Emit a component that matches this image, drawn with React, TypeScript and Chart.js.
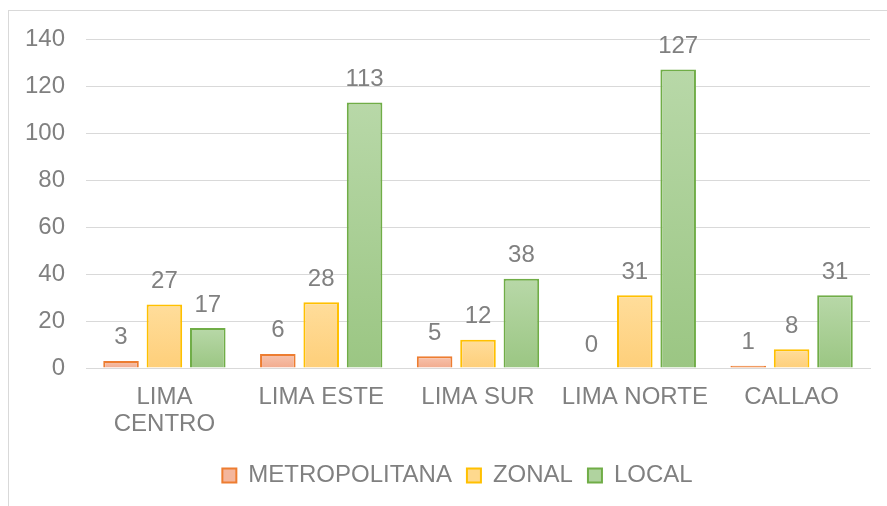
import React, { useEffect, useRef } from "react";
import { Chart, registerables } from "chart.js";

Chart.register(...registerables);

const categories: (string | string[])[] = [["LIMA", "CENTRO"], "LIMA ESTE", "LIMA SUR", "LIMA NORTE", "CALLAO"];
const metropolitana = [3, 6, 5, 0, 1];
const zonal = [27, 28, 12, 31, 8];
const local = [17, 113, 38, 127, 31];
const seriesNames = ["METROPOLITANA", "ZONAL", "LOCAL"];
const yTicksMax = 140;
const yTickStep = 20;

const FONT = "'Liberation Sans', Arial, sans-serif";
const TEXT = "#808080";
const FS = 24;
const LEGEND_SHIFT = 22.5;

const styles = [
  { top: "#f7c4ae", bottom: "#f2ab8e", border: "#ed7d31", legend: "#f4b69c" },
  { top: "#ffdd9b", bottom: "#fecf7a", border: "#ffc000", legend: "#fed98e" },
  { top: "#b8d8a8", bottom: "#9bc683", border: "#70ad47", legend: "#b0d39f" },
];

function gradientFor(idx: number) {
  return (ctx: any) => {
    const chart = ctx.chart;
    const s = styles[idx];
    const area = chart.chartArea;
    const yScale = chart.scales?.y;
    if (!area || !yScale || ctx.raw == null) return s.legend;
    const yTop = yScale.getPixelForValue(ctx.raw);
    const yBot = yScale.getPixelForValue(0);
    if (!isFinite(yTop)) return s.legend;
    if (Math.abs(yBot - yTop) < 4) return s.border;
    const g = chart.ctx.createLinearGradient(0, yTop, 0, yBot);
    g.addColorStop(0, s.top);
    g.addColorStop(1, s.bottom);
    return g;
  };
}

const dataLabels = {
  id: "dataLabels",
  afterDatasetsDraw(chart: any) {
    const c = chart.ctx;
    c.save();
    c.font = `${FS}px ${FONT}`;
    c.fillStyle = TEXT;
    c.textAlign = "center";
    c.textBaseline = "alphabetic";
    chart.data.datasets.forEach((ds: any, i: number) => {
      const meta = chart.getDatasetMeta(i);
      meta.data.forEach((el: any, j: number) => {
        c.fillText(String(ds.data[j]), el.x, el.y - 16.5);
      });
    });
    c.restore();
  },
};

const legendShift = {
  id: "legendShift",
  afterLayout(chart: any) {
    const lg = chart.legend;
    if (lg) {
      lg.left += LEGEND_SHIFT;
      lg.right += LEGEND_SHIFT;
    }
  },
};

export default function App() {
  const ref = useRef<HTMLCanvasElement>(null);
  useEffect(() => {
    if (!ref.current) return;
    const allSeries = [metropolitana, zonal, local];
    const chart = new Chart(ref.current, {
      type: "bar",
      data: {
        labels: categories,
        datasets: allSeries.map((d, i) => ({
          label: seriesNames[i],
          data: d,
          backgroundColor: gradientFor(i),
          borderColor: styles[i].border,
          borderWidth: (ctx: any) => (ctx.raw === 0 ? 0 : 2),
          categoryPercentage: 0.83,
          barPercentage: 0.82,
        })),
      },
      options: {
        responsive: false,
        animation: false,
        layout: { padding: { top: 39, right: 17, left: 0, bottom: 8.5 } },
        plugins: {
          tooltip: { enabled: false },
          legend: {
            position: "bottom",
            labels: {
              font: { family: FONT, size: FS },
              color: TEXT,
              boxWidth: 14,
              boxHeight: 14,
              padding: 15,
              generateLabels: () =>
                seriesNames.map((n, i) => ({
                  text: n,
                  fillStyle: styles[i].legend,
                  strokeStyle: styles[i].border,
                  lineWidth: 2,
                  hidden: false,
                  datasetIndex: i,
                  fontColor: TEXT,
                })),
            },
          },
        },
        scales: {
          x: {
            grid: { display: false, drawTicks: false },
            border: { display: true, color: "#d9d9d9", width: 1 },
            ticks: {
              font: { family: FONT, size: FS, lineHeight: 1.12 },
              color: TEXT,
              padding: 16,
              maxRotation: 0,
              autoSkip: false,
            },
            afterFit: (scale: any) => {
              scale.height = 80.5;
            },
          },
          y: {
            min: 0,
            max: yTicksMax,
            ticks: {
              stepSize: yTickStep,
              font: { family: FONT, size: FS },
              color: TEXT,
              padding: 21,
            },
            grid: { color: "#d9d9d9", lineWidth: 1, drawTicks: false },
            border: { display: false },
            afterFit: (scale: any) => {
              scale.width = 86;
            },
          },
        },
      },
      plugins: [dataLabels, legendShift],
    } as any);
    return () => chart.destroy();
  }, []);
  return (
    <div style={{ position: "fixed", left: 0, top: 0, width: 887, height: 506, overflow: "hidden", background: "#fff" }}>
      <div
        style={{
          position: "absolute",
          left: 8,
          top: 10,
          width: 1000,
          height: 1000,
          border: "1px solid #d9d9d9",
        }}
      />
      <canvas ref={ref} width={887} height={506} style={{ position: "absolute", left: 0, top: 0 }} />
    </div>
  );
}
